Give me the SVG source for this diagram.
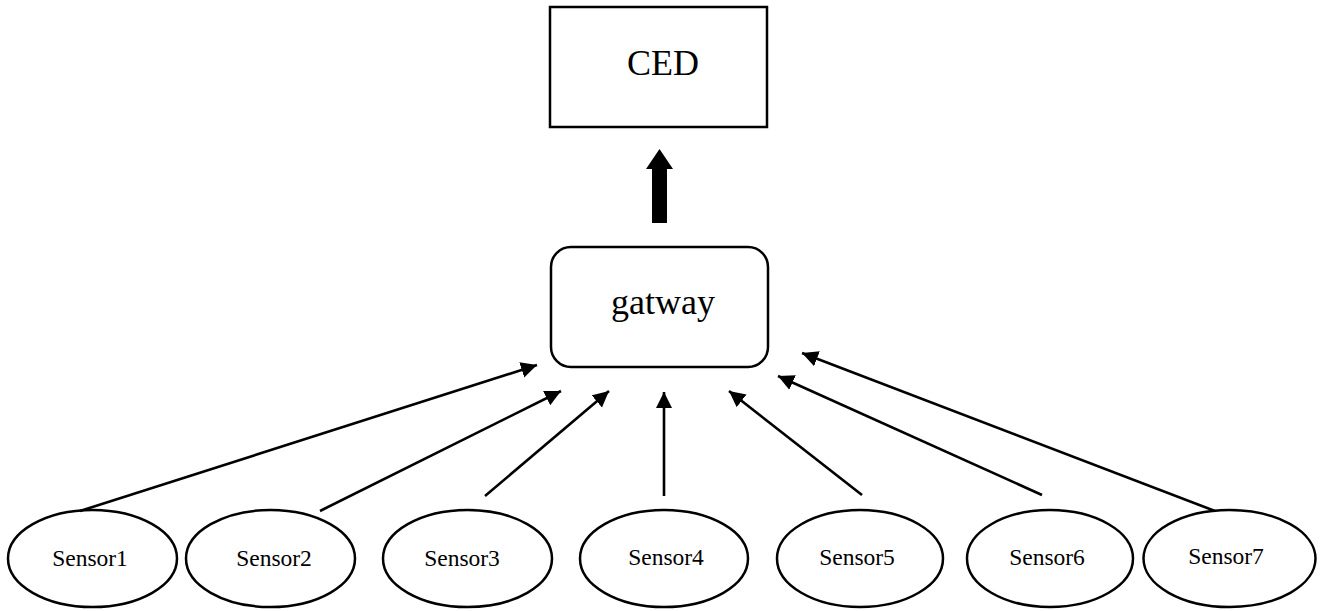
<svg xmlns="http://www.w3.org/2000/svg" width="1331" height="611" viewBox="0 0 1331 611">
  <style>
    .box { fill: #fff; stroke: #000; stroke-width: 2.5; }
    .big { font-family: "Liberation Serif", "Times New Roman", serif; font-size: 36px; fill: #000; text-anchor: middle; }
    .small { font-family: "Liberation Serif", "Times New Roman", serif; font-size: 23.5px; fill: #000; text-anchor: middle; }
    .link { fill: none; stroke: #000; stroke-width: 2.6; marker-end: url(#head); }
  </style>
  <defs>
    <marker id="head" markerUnits="userSpaceOnUse" markerWidth="18" markerHeight="17" refX="16" refY="8" orient="auto">
      <path d="M0,0 L16,8 L0,16 z" fill="#000"/>
    </marker>
  </defs>
  <rect width="1331" height="611" fill="#fff"/>

  <g id="ced">
    <rect class="box" x="550" y="7" width="217" height="120"/>
    <text class="big" x="663" y="75">CED</text>
  </g>

  <g id="gateway">
    <rect class="box" x="551" y="247" width="217" height="120" rx="20" ry="20"/>
    <text class="big" x="663" y="314">gatway</text>
  </g>

  <g id="sensor1">
    <ellipse class="box" cx="92.5" cy="558.5" rx="84.5" ry="48.5"/>
    <text class="small" x="90" y="566">Sensor1</text>
  </g>
  <g id="sensor2">
    <ellipse class="box" cx="270.5" cy="558.5" rx="84.5" ry="48.5"/>
    <text class="small" x="274" y="566">Sensor2</text>
  </g>
  <g id="sensor3">
    <ellipse class="box" cx="467.5" cy="558.5" rx="84.5" ry="48.5"/>
    <text class="small" x="462" y="566">Sensor3</text>
  </g>
  <g id="sensor4">
    <ellipse class="box" cx="664" cy="558.5" rx="84" ry="48.5"/>
    <text class="small" x="666" y="565">Sensor4</text>
  </g>
  <g id="sensor5">
    <ellipse class="box" cx="860" cy="558.5" rx="83" ry="48.5"/>
    <text class="small" x="857" y="565">Sensor5</text>
  </g>
  <g id="sensor6">
    <ellipse class="box" cx="1050" cy="558.5" rx="83" ry="48.5"/>
    <text class="small" x="1047" y="565">Sensor6</text>
  </g>
  <g id="sensor7">
    <ellipse class="box" cx="1229.5" cy="558.5" rx="86" ry="48.5"/>
    <text class="small" x="1226" y="564">Sensor7</text>
  </g>

  <g id="connectors">
    <!-- wide uplink from gateway to CED -->
    <polygon points="652,223 667,223 667,169 673,169 659.5,149 646,169 652,169" fill="#000"/>
    <!-- sensor links into gateway -->
    <line class="link" x1="80" y1="511" x2="537" y2="365"/>
    <line class="link" x1="320" y1="511" x2="561" y2="391"/>
    <line class="link" x1="485" y1="496" x2="609" y2="391"/>
    <line class="link" x1="664" y1="496" x2="664" y2="392"/>
    <line class="link" x1="862" y1="495" x2="729" y2="391"/>
    <line class="link" x1="1042" y1="495" x2="778" y2="376"/>
    <line class="link" x1="1215" y1="511" x2="802" y2="353"/>
  </g>
</svg>
